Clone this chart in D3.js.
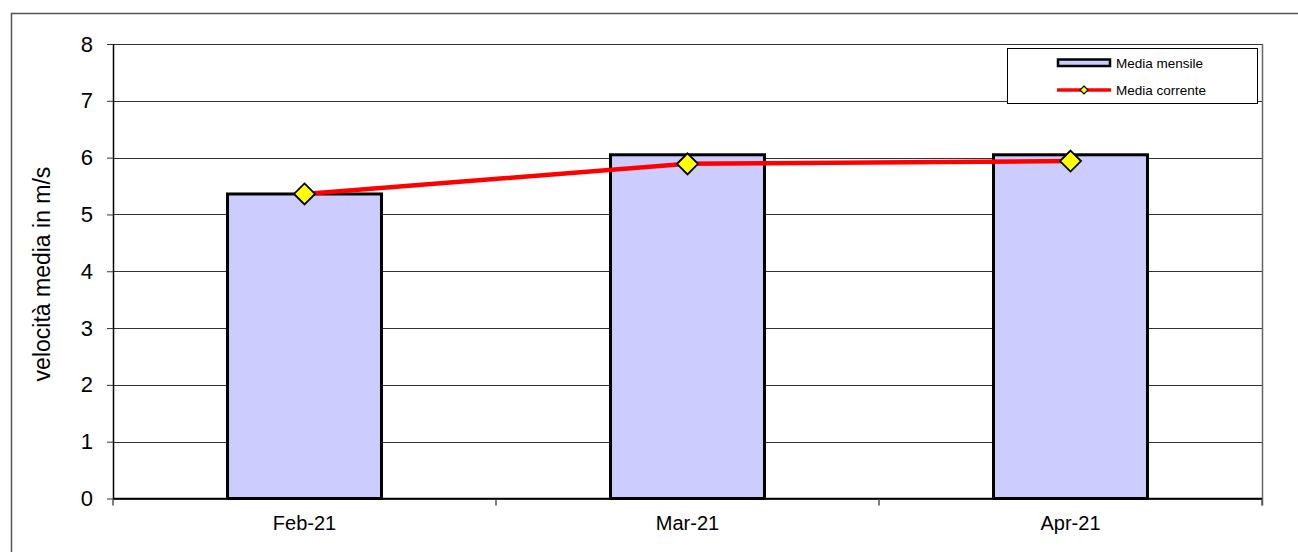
<!DOCTYPE html>
<html>
<head>
<meta charset="utf-8">
<script src="https://cdn.jsdelivr.net/npm/d3@7"></script>
<style>
  body { margin: 0; background: #fff; }
  svg { display: block; font-family: "Liberation Sans", Arial, sans-serif; }
</style>
</head>
<body>
<div id="chart"></div>
<script>
var months = ["Feb-21", "Mar-21", "Apr-21"];
var mediaMensile = [5.36, 6.05, 6.05];
var mediaCorrente = [5.36, 5.89, 5.94];
var yTicks = [0, 1, 2, 3, 4, 5, 6, 7, 8];

var width = 1298, height = 552;
var plotLeft = 113, plotRight = 1262, plotTop = 44, plotBottom = 498.5;

var svg = d3.select("#chart")
  .append("svg")
    .attr("width", width)
    .attr("height", height);

// outer chart frame (runs off the page on right and bottom)
svg.append("rect")
  .attr("x", 11.5).attr("y", 13.5)
  .attr("width", 1400).attr("height", 700)
  .attr("fill", "none")
  .attr("stroke", "#555")
  .attr("stroke-width", 1.5);

var x = d3.scaleBand()
  .domain(months)
  .range([plotLeft, plotRight])
  .paddingInner(0.598)
  .paddingOuter(0.299);

var xBand = d3.scaleBand().domain(months).range([plotLeft, plotRight]);

var y = d3.scaleLinear().domain([0, 8]).range([plotBottom, plotTop]);

// gridlines
svg.append("g")
  .selectAll("line")
  .data(yTicks)
  .enter()
  .append("line")
    .attr("x1", plotLeft).attr("x2", plotRight)
    .attr("y1", function(d) { return Math.round(y(d)) + 0.5; })
    .attr("y2", function(d) { return Math.round(y(d)) + 0.5; })
    .attr("stroke", "#333")
    .attr("stroke-width", 1);

// plot right border
svg.append("line")
  .attr("x1", plotRight + 0.5).attr("x2", plotRight + 0.5)
  .attr("y1", plotTop).attr("y2", plotBottom + 7)
  .attr("stroke", "#666").attr("stroke-width", 1.5);

// y axis
var yAxis = d3.axisLeft(y).tickValues(yTicks).tickSize(6).tickPadding(14).tickSizeOuter(0);
var gy = svg.append("g")
  .attr("transform", "translate(" + plotLeft + ",0)")
  .call(yAxis);
gy.select(".domain").attr("stroke", "#000").attr("stroke-width", 1.5);
gy.selectAll(".tick line").attr("stroke", "#333");
gy.selectAll("text")
  .attr("font-size", "22px")
  .attr("font-family", "Liberation Sans, Arial, sans-serif")
  .attr("fill", "#000");

// x axis ticks at band boundaries
var boundaries = months.map(function(m) { return xBand(m); }).concat([plotRight]);
svg.append("g")
  .selectAll("line")
  .data(boundaries)
  .enter()
  .append("line")
    .attr("x1", function(d) { return d; })
    .attr("x2", function(d) { return d; })
    .attr("y1", plotBottom).attr("y2", plotBottom + 7)
    .attr("stroke", "#555").attr("stroke-width", 1.5);

svg.append("line")
  .attr("x1", plotLeft).attr("x2", plotRight)
  .attr("y1", plotBottom).attr("y2", plotBottom)
  .attr("stroke", "#000").attr("stroke-width", 1.5);

svg.append("g")
  .selectAll("text")
  .data(months)
  .enter()
  .append("text")
    .attr("x", function(d) { return xBand(d) + xBand.bandwidth() / 2; })
    .attr("y", 530)
    .attr("text-anchor", "middle")
    .attr("font-size", "20px")
    .text(function(d) { return d; });

// y title
svg.append("text")
  .attr("transform", "translate(50,274) rotate(-90)")
  .attr("text-anchor", "middle")
  .attr("font-size", "23px")
  .text("velocità media in m/s");

// bars
svg.append("g")
  .selectAll("rect")
  .data(mediaMensile)
  .enter()
  .append("rect")
    .attr("x", function(d, i) { return x(months[i]); })
    .attr("y", function(d) { return y(d); })
    .attr("width", x.bandwidth())
    .attr("height", function(d) { return plotBottom - y(d); })
    .attr("fill", "#ccccff")
    .attr("stroke", "#000")
    .attr("stroke-width", 3);

// line
var cx = function(i) { return xBand(months[i]) + xBand.bandwidth() / 2; };
var line = d3.line()
  .x(function(d, i) { return cx(i); })
  .y(function(d) { return y(d); });

svg.append("path")
  .datum(mediaCorrente)
  .attr("d", line)
  .attr("fill", "none")
  .attr("stroke", "#ff0000")
  .attr("stroke-width", 4.5);

var diamond = function(r) {
  return "M0," + (-r) + "L" + r + ",0L0," + r + "L" + (-r) + ",0Z";
};

svg.append("g")
  .selectAll("path")
  .data(mediaCorrente)
  .enter()
  .append("path")
    .attr("transform", function(d, i) { return "translate(" + cx(i) + "," + y(d) + ")"; })
    .attr("d", diamond(10.5))
    .attr("fill", "#ffff00")
    .attr("stroke", "#000")
    .attr("stroke-width", 1.8);

// legend
var legend = svg.append("g");
legend.append("rect")
  .attr("x", 1007.5).attr("y", 48.5)
  .attr("width", 250).attr("height", 55)
  .attr("fill", "#fff")
  .attr("stroke", "#000")
  .attr("stroke-width", 1);

legend.append("rect")
  .attr("x", 1058).attr("y", 59.5)
  .attr("width", 52).attr("height", 6.5)
  .attr("fill", "#ccccff")
  .attr("stroke", "#000")
  .attr("stroke-width", 2.5);

legend.append("text")
  .attr("x", 1116).attr("y", 67.5)
  .attr("font-size", "13.5px")
  .text("Media mensile");

legend.append("line")
  .attr("x1", 1057).attr("x2", 1111)
  .attr("y1", 90).attr("y2", 90)
  .attr("stroke", "#ff0000")
  .attr("stroke-width", 3.5);

legend.append("path")
  .attr("transform", "translate(1084,90)")
  .attr("d", diamond(4))
  .attr("fill", "#ffff00")
  .attr("stroke", "#000")
  .attr("stroke-width", 1.2);

legend.append("text")
  .attr("x", 1116).attr("y", 95)
  .attr("font-size", "13.5px")
  .text("Media corrente");
</script>
</body>
</html>
